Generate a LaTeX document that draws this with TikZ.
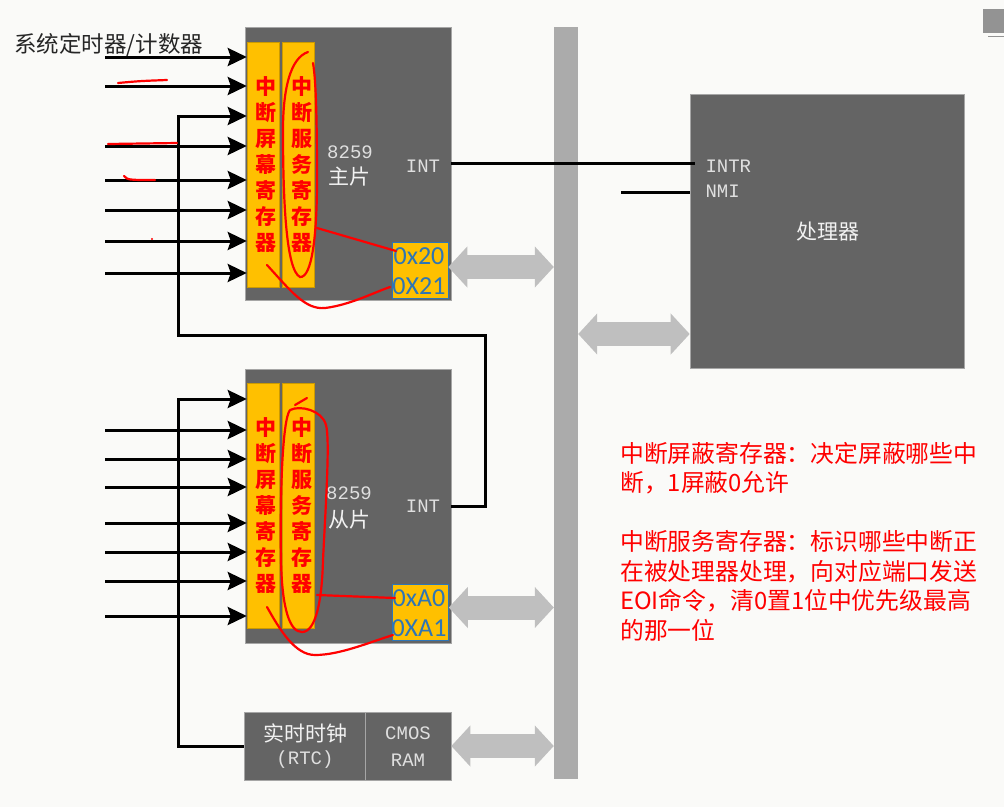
\documentclass[tikz,border=0pt]{standalone}
\usepackage{fontspec}
\newfontfamily\cjk{Noto Sans CJK SC}
\newfontfamily\monofont{Liberation Mono}
\newfontfamily\portfont{Carlito}
\usetikzlibrary{positioning,arrows.meta,calc}

\definecolor{chipgray}{RGB}{100,100,100}
\definecolor{busgray}{RGB}{171,171,171}
\definecolor{linkgray}{RGB}{191,191,191}
\definecolor{regyellow}{RGB}{255,192,0}
\definecolor{portblue}{RGB}{46,117,182}
\definecolor{paper}{RGB}{250,250,248}

\begin{document}
\begin{tikzpicture}[x=1pt,y=-1pt,>={Stealth[length=19pt,width=18pt,inset=3pt]},
  chip/.style={draw=gray!70,fill=chipgray,line width=0.6pt,inner sep=0pt},
  reg/.style={draw=regyellow!80!black,fill=regyellow,line width=0.5pt,inner sep=0pt,minimum width=32pt,minimum height=245pt},
  regtext/.style={text=red,align=center,font=\cjk\bfseries\fontsize{21}{26}\selectfont},
  port/.style={draw=portblue,fill=regyellow,line width=0.6pt,inner sep=0pt,minimum width=56pt,minimum height=56pt},
  porttext/.style={text=portblue,font=\portfont\fontsize{26}{26}\selectfont},
  pinlabel/.style={text=gray!25,font=\monofont\fontsize{19}{19}\selectfont},
  chiplabel/.style={text=white!95!black,font=\cjk\fontsize{21}{21}\selectfont},
  wire/.style={line width=3pt},
  link/.style={linkgray,line width=24pt,{Triangle[length=19pt,width=40pt]}-{Triangle[length=19pt,width=40pt]}},
  pen/.style={red,line width=2.2pt,line cap=round}]
  \fill[paper] (0,0) rectangle (1004,807);
  \useasboundingbox (0,0) rectangle (1004,807);

  \node[text=black!85,font=\cjk\fontsize{22.5}{22.5}\selectfont,anchor=west,inner sep=0pt] (timer) at (14,45) {系统定时器/计数器};

  % master 8259
  \node[chip,minimum width=206pt,minimum height=273pt] (master) at (348,163.5) {};
  \node[reg] (mmask) at (263,164.5) {};
  \node[reg] (mserv) at (298,164.5) {};
  \node[regtext] at (266,164.5) {中\\断\\屏\\幕\\寄\\存\\器};
  \node[regtext] at (302,164.5) {中\\断\\服\\务\\寄\\存\\器};
  \node[pinlabel] (mname) at (350,152) {8259};
  \node[chiplabel] at (349,177) {主片};
  \node[pinlabel] (mint) at (423,166) {INT};
  \node[port] (mport) at (420,270) {};
  \node[porttext] at (419,256) {0x20};
  \node[porttext] at (419,286) {0X21};

  % slave 8259
  \node[chip,minimum width=206pt,minimum height=274pt] (slave) at (348,506) {};
  \node[reg] (smask) at (263,505.5) {};
  \node[reg] (sserv) at (298,505.5) {};
  \node[regtext] at (266,505.5) {中\\断\\屏\\幕\\寄\\存\\器};
  \node[regtext] at (302,505.5) {中\\断\\服\\务\\寄\\存\\器};
  \node[pinlabel] (sname) at (349,493) {8259};
  \node[chiplabel] at (349,520) {从片};
  \node[pinlabel] (sint) at (423,506) {INT};
  \node[port] (sport) at (420.5,612.5) {};
  \node[porttext] at (419,598) {0xA0};
  \node[porttext] at (419,628) {0XA1};

  % rtc and cmos
  \node[chip,minimum width=121pt,minimum height=68pt] (rtc) at (304.5,746) {};
  \node[chip,minimum width=86pt,minimum height=68pt] (cmos) at (408,746) {};
  \node[chiplabel] at (305,733) {实时时钟};
  \node[pinlabel] at (305,760) {(RTC)};
  \node[pinlabel] at (408,733) {CMOS};
  \node[pinlabel] at (408,760) {RAM};

  % bus and cpu
  \node[fill=busgray,inner sep=0pt,minimum width=24pt,minimum height=752pt] (bus) at (566,403) {};
  \node[chip,minimum width=274pt,minimum height=274pt] (proc) at (827,231) {};
  \node[chiplabel] at (828,232) {处理器};
  \node[pinlabel,anchor=west] (intr) at (702,166) {INTR};
  \node[pinlabel,anchor=west] (nmi) at (702,191) {NMI};

  % inputs
  \foreach \y [count=\i] in {57,86,146,180,210,241,273} {
    \coordinate (min\i) at (105,\y);
    \draw[wire,->] (min\i) -- (min\i -| mmask.west);
  }
  \foreach \y [count=\i] in {430,459,487,523,552,581,616} {
    \coordinate (sin\i) at (105,\y);
    \draw[wire,->] (sin\i) -- (sin\i -| smask.west);
  }
  \coordinate (casr) at (485,335);
  \coordinate (casl) at (178,335);
  \coordinate (ir2) at (178,116);
  \draw[wire,->] (slave.east |- sint) -| (casr) -- (casl) -- (ir2) -- (ir2 -| mmask.west);
  \coordinate (ir0) at (178,399);
  \draw[wire,->] (rtc.west) -| (ir0) -- (ir0 -| smask.west);
  \draw[wire] (master.east |- 0,163) -- ($(proc.west |- 0,163)+(5,0)$);
  \coordinate (nmiin) at (621,192);
  \draw[wire] (nmiin) -- (nmiin -| proc.west);

  % bus links
  \draw[link] ([yshift=3pt]mport.east) -- ([yshift=3pt]mport.east -| bus.west);
  \draw[link] ([yshift=5pt]sport.east) -- ([yshift=5pt]sport.east -| bus.west);
  \draw[link] (cmos.east) -- (cmos.east -| bus.west);
  \coordinate (pl) at ([yshift=-103pt]proc.west);
  \draw[link] (pl -| bus.east) -- (pl);

  % notes
  \node[text=red,anchor=north west,align=left,inner sep=0pt,font=\cjk\fontsize{23.8}{29.5}\selectfont] (note) at (620,442)
    {中断屏蔽寄存器：决定屏蔽哪些中\\断，1屏蔽0允许\\[29.5pt]中断服务寄存器：标识哪些中断正\\在被处理器处理，向对应端口发送\\EOI命令，清0置1位中优先级最高\\的那一位};

  % hand marks
  \draw[pen] (118,83) .. controls (140,81) .. (167,80);
  \draw[pen] (108,144) -- (177,143);
  \draw[pen] (124,176) .. controls (128,180) .. (155,180);
  \fill[red] (152,239) circle (1.2pt);
  \draw[pen] (308,52) .. controls (290,58) and (283,90) .. (283,130)
    .. controls (283,200) and (286,270) .. (300,277)
    .. controls (312,278) and (317,235) .. (317,180)
    .. controls (317,120) and (316,80) .. (313,63);
  \draw[pen] (317,228) -- (396,251);
  \draw[pen] (267,265) .. controls (290,290) and (305,310) .. (325,308)
    .. controls (350,305) and (375,292) .. (390,287);
  \draw[pen] (307,398) -- (295,405);
  \draw[pen] (290,410) .. controls (282,420) and (280,500) .. (281,560)
    .. controls (282,610) and (290,632) .. (302,632)
    .. controls (316,632) and (322,600) .. (323,560)
    .. controls (326,500) and (330,440) .. (326,425)
    .. controls (322,410) and (300,405) .. (290,410);
  \draw[pen] (317,595) -- (395,598);
  \draw[pen] (267,607) .. controls (280,630) and (295,655) .. (315,655)
    .. controls (340,655) and (370,642) .. (393,635);

  % corner icon
  \fill[gray!85] (983,9) rectangle (1004,33);
  \draw[gray!85,line width=1pt] (988,36) -- (1004,36);
\end{tikzpicture}
\end{document}
